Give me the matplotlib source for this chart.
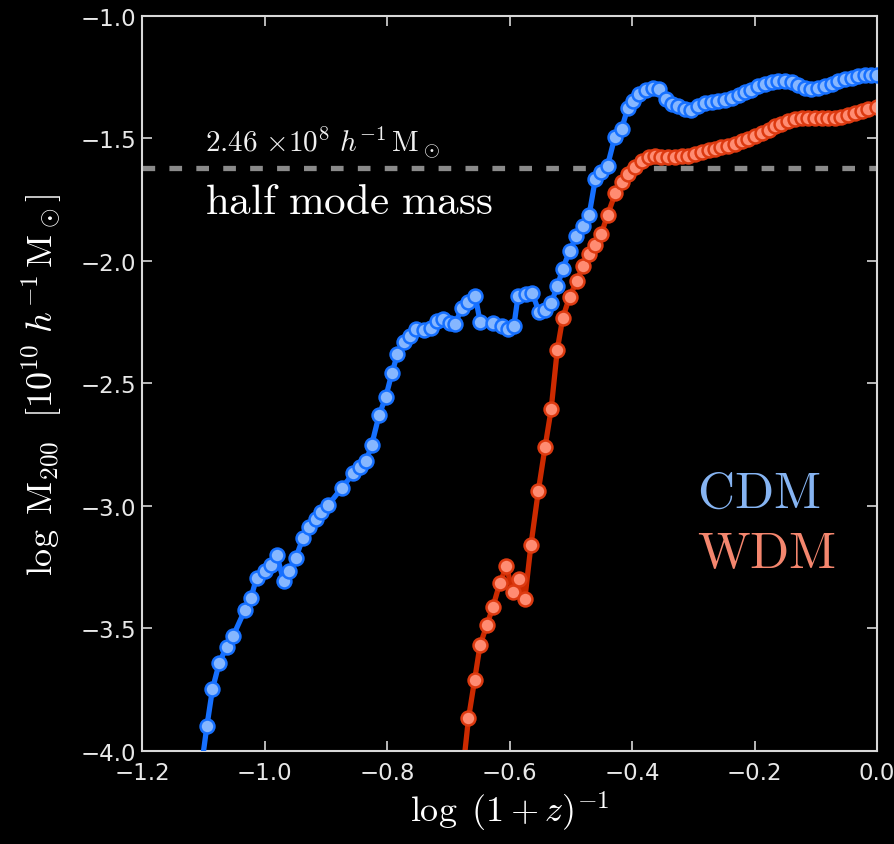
import matplotlib
matplotlib.use("Agg")
import matplotlib.pyplot as plt

plt.rcParams['mathtext.fontset'] = 'cm'

# ---- data ----
cdm_x = [-1.105, -1.094, -1.085, -1.074, -1.062, -1.051, -1.032, -1.022, -1.013, -0.999, -0.989,
         -0.980, -0.969, -0.960, -0.949, -0.937, -0.927, -0.916, -0.907, -0.896, -0.874,
         -0.855, -0.844, -0.834, -0.825, -0.813, -0.802, -0.792, -0.783, -0.773, -0.762,
         -0.753, -0.739, -0.728, -0.719, -0.709, -0.698, -0.689, -0.678, -0.667, -0.656,
         -0.648, -0.627, -0.613, -0.603, -0.593, -0.586, -0.573, -0.563, -0.552, -0.542,
         -0.532, -0.522, -0.513, -0.502, -0.491, -0.480, -0.470, -0.460, -0.450, -0.440,
         -0.428, -0.417, -0.407, -0.398, -0.388, -0.377, -0.366, -0.356, -0.345, -0.335,
         -0.325, -0.314, -0.303, -0.292, -0.281, -0.270, -0.259, -0.248, -0.237, -0.226,
         -0.216, -0.205, -0.194, -0.183, -0.172, -0.161, -0.150, -0.139, -0.129, -0.118,
         -0.107, -0.096, -0.085, -0.074, -0.063, -0.052, -0.041, -0.031, -0.020, -0.010, 0.000]
cdm_y = [-4.100, -3.897, -3.747, -3.641, -3.574, -3.529, -3.424, -3.374, -3.293, -3.264, -3.240,
         -3.200, -3.305, -3.265, -3.212, -3.129, -3.086, -3.053, -3.026, -2.996, -2.927,
         -2.867, -2.839, -2.816, -2.750, -2.629, -2.555, -2.457, -2.381, -2.329, -2.305,
         -2.278, -2.282, -2.275, -2.246, -2.237, -2.254, -2.257, -2.193, -2.166, -2.143,
         -2.248, -2.252, -2.267, -2.276, -2.267, -2.142, -2.134, -2.129, -2.208, -2.200,
         -2.172, -2.103, -2.031, -1.960, -1.899, -1.858, -1.812, -1.667, -1.635, -1.611,
         -1.493, -1.461, -1.376, -1.346, -1.320, -1.303, -1.294, -1.296, -1.337, -1.359,
         -1.369, -1.378, -1.384, -1.367, -1.357, -1.352, -1.347, -1.341, -1.333, -1.322,
         -1.312, -1.302, -1.286, -1.278, -1.271, -1.267, -1.267, -1.271, -1.280, -1.292,
         -1.298, -1.294, -1.284, -1.276, -1.265, -1.259, -1.253, -1.245, -1.241, -1.241, -1.239]

wdm_x = [-0.677, -0.667, -0.657, -0.648, -0.637, -0.627, -0.616, -0.605, -0.595, -0.585, -0.575,
         -0.565, -0.553, -0.542, -0.532, -0.522, -0.513, -0.502, -0.490, -0.480, -0.470,
         -0.460, -0.450, -0.440, -0.427, -0.417, -0.407, -0.395, -0.384, -0.373, -0.362,
         -0.352, -0.341, -0.330, -0.319, -0.308, -0.297, -0.286, -0.275, -0.264, -0.254,
         -0.243, -0.232, -0.221, -0.210, -0.199, -0.188, -0.177, -0.167, -0.156, -0.145,
         -0.134, -0.123, -0.112, -0.101, -0.090, -0.080, -0.069, -0.058, -0.047, -0.036,
         -0.025, -0.014, 0.000]
wdm_y = [-4.100, -3.867, -3.710, -3.567, -3.486, -3.411, -3.316, -3.246, -3.352, -3.298, -3.380,
         -3.159, -2.939, -2.760, -2.605, -2.362, -2.231, -2.147, -2.080, -2.019, -1.973,
         -1.935, -1.888, -1.812, -1.722, -1.679, -1.645, -1.616, -1.591, -1.576, -1.573,
         -1.574, -1.574, -1.574, -1.573, -1.571, -1.565, -1.557, -1.549, -1.543, -1.535,
         -1.529, -1.522, -1.512, -1.502, -1.490, -1.478, -1.465, -1.451, -1.439, -1.429,
         -1.422, -1.418, -1.418, -1.418, -1.418, -1.418, -1.416, -1.412, -1.406, -1.398,
         -1.388, -1.380, -1.370]

half_mode_logm = -1.62
x_ticks = [-1.2, -1.0, -0.8, -0.6, -0.4, -0.2, 0.0]
y_ticks = [-4.0, -3.5, -3.0, -2.5, -2.0, -1.5, -1.0]

# ---- figure ----
fig = plt.figure(figsize=(8.95, 8.45), dpi=100, facecolor='black')
ax = fig.add_axes([0.1587, 0.1101, 0.8212, 0.8698], facecolor='black')

spine_c = '#d8d8d8'
for s in ax.spines.values():
    s.set_color(spine_c)
    s.set_linewidth(1.5)

ax.axhline(half_mode_logm, color='#8a8a8a', lw=3.8, dashes=(2.4, 2.7), zorder=1)

ax.plot(cdm_x, cdm_y, '-o', color='#1670ff', lw=3.8, ms=10, mfc='#86b7ff',
        mec='#1670ff', mew=1.8, zorder=3)
ax.plot(wdm_x, wdm_y, '-o', color='#cc2a00', lw=3.8, ms=10, mfc='#ff8c72',
        mec='#dd3a10', mew=1.8, zorder=2)

ax.set_xlim(-1.2, 0.0)
ax.set_ylim(-4.0, -1.0)
ax.set_xticks(x_ticks)
ax.set_yticks(y_ticks)
ax.set_xticklabels([f"{t:.1f}".replace('-', '\u2212') for t in x_ticks])
ax.set_yticklabels([f"{t:.1f}".replace('-', '\u2212') for t in y_ticks])
ax.tick_params(direction='in', top=True, right=True, length=7, width=1.2,
               colors=spine_c, labelsize=16.5, labelcolor='#e8e8e8', pad=4)
ax.tick_params(axis='x', pad=7)

ax.set_xlabel(r"$\log\ (1+z)^{-1}$", color='white', fontsize=26, labelpad=4)
ax.set_ylabel(r"$\log\ \mathrm{M}_{200}\ \ [10^{10}\ h^{-1}\,\mathrm{M}_\odot]$",
              color='white', fontsize=26, labelpad=12)

ax.text(-1.097, -1.551, r"$2.46\ {\times}10^{8}\ h^{-1}\,\mathrm{M}_\odot$",
        color='#f0f0f0', fontsize=21, va='baseline', ha='left')
ax.text(-1.097, -1.805, r"$\mathrm{half\ mode\ mass}$",
        color='white', fontsize=31, va='baseline', ha='left')
ax.text(-0.294, -3.004, r"$\mathrm{CDM}$", color='#86b4f2', fontsize=37,
        va='baseline', ha='left')
ax.text(-0.294, -3.249, r"$\mathrm{WDM}$", color='#f4866e', fontsize=37,
        va='baseline', ha='left')

fig.savefig("out.png", dpi=100, facecolor='black')
